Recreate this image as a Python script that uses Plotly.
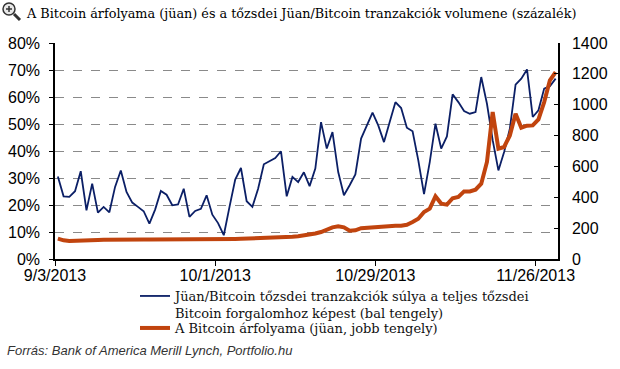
import pandas as pd
import plotly.graph_objects as go

dates = pd.date_range("2013-09-03", periods=88, freq="D")

cny_share = [
    30.6, 23.2, 23.0, 25.1, 32.5, 18.0, 27.9, 17.2, 19.3, 17.3,
    26.7, 32.8, 24.8, 20.9, 19.3, 17.7, 13.1, 18.3, 25.2, 23.8,
    19.9, 20.2, 26.0, 15.6, 17.8, 18.6, 23.6, 16.4, 13.3, 8.8,
    19.3, 29.4, 33.7, 21.4, 19.3, 26.0, 35.1, 36.3, 37.4, 39.9,
    23.2, 30.4, 28.5, 32.1, 27.0, 33.5, 50.7, 40.9, 47.0, 32.2,
    23.6, 27.3, 31.3, 44.6, 49.1, 54.2, 49.5, 43.3, 50.7, 58.1,
    55.9, 48.6, 47.3, 36.5, 24.0, 35.9, 50.1, 40.9, 45.4, 61.0,
    58.1, 54.8, 53.8, 54.4, 67.4, 57.5, 44.0, 32.8, 39.6, 48.3,
    64.6, 66.8, 70.2, 52.6, 55.1, 63.1, 64.0, 66.8,
]

btc_price_cny = [
    132, 121, 117, 117, 118, 119, 121, 123, 125, 126,
    126, 126, 126, 125, 125, 126, 126, 126, 125, 124,
    124, 124, 125, 125, 126, 127, 128, 128, 129, 126,
    128, 130, 131, 132, 133, 134, 135, 136, 137, 138,
    142, 145, 148, 153, 158, 165, 175, 190, 205, 212,
    205, 183, 186, 200, 203, 207, 212, 214, 216, 216,
    216, 222, 240, 261, 305, 326, 406, 359, 352, 394,
    402, 438, 438, 449, 488, 629, 953, 715, 726, 801,
    942, 851, 864, 866, 905, 1017, 1158, 1212,
]

x_tick_vals = ["2013-09-02 12:00", "2013-09-30 12:00", "2013-10-28 12:00", "2013-11-25 12:00"]
x_tick_text = ["9/3/2013", "10/1/2013", "10/29/2013", "11/26/2013"]

title_text = "A Bitcoin árfolyama (jüan) és a tőzsdei Jüan/Bitcoin tranzakciók volumene (százalék)"
name_share = "Jüan/Bitcoin tőzsdei tranzakciók súlya a teljes tőzsdei<br>Bitcoin forgalomhoz képest (bal tengely)"
name_price = "A Bitcoin árfolyama (jüan, jobb tengely)"
source_text = "Forrás: Bank of America Merill Lynch, Portfolio.hu"

W, H = 620, 369
L, R, T, B = 55, 62, 43, 110
pw, ph = W - L - R, H - T - B

def px(x):
    return (x - L) / pw

def py(y):
    return (H - B - y) / ph

fig = go.Figure()
fig.add_trace(go.Scatter(x=dates, y=cny_share, mode="lines", name=name_share,
                         line=dict(color="#0b1f66", width=1.8), yaxis="y",
                         legend="legend"))
fig.add_trace(go.Scatter(x=dates, y=btc_price_cny, mode="lines", name=name_price,
                         line=dict(color="#c1440e", width=4), yaxis="y2",
                         legend="legend2"))

tick_font = dict(family="Liberation Sans, Arial, sans-serif", size=16, color="#000")
legend_font = dict(family="DejaVu Serif, serif", size=13, color="#111")

fig.update_layout(
    width=W, height=H,
    margin=dict(l=L, r=R, t=T, b=B),
    paper_bgcolor="white", plot_bgcolor="white",
    title=dict(text=title_text, x=27 / W, xref="container", xanchor="left",
               y=1 - 14 / H, yref="container", yanchor="middle", automargin=False,
               font=dict(family="DejaVu Serif, serif", size=12.8, color="#000")),
    xaxis=dict(type="date", range=["2013-09-02 12:00", "2013-11-29 10:00"],
               tickvals=x_tick_vals, ticktext=x_tick_text, automargin=False,
               ticks="outside", ticklen=5, tickwidth=1, tickcolor="#000",
               showline=True, linecolor="#000", linewidth=1.5,
               showgrid=False, zeroline=False, tickfont=tick_font,
               ticklabelstandoff=-4),
    yaxis=dict(range=[0, 80], dtick=10, ticksuffix="%", automargin=False,
               ticks="outside", ticklen=4, tickcolor="#000",
               showline=True, linecolor="#000", linewidth=1.5,
               showgrid=True, gridcolor="#8a8a8a", griddash="dash", gridwidth=1,
               zeroline=False, tickfont=tick_font, ticklabelstandoff=6),
    yaxis2=dict(range=[0, 1400], dtick=200, overlaying="y", side="right",
                automargin=False,
                ticks="inside", ticklen=4, tickcolor="#000",
                showline=True, linecolor="#000", linewidth=1.5,
                showgrid=False, zeroline=False, tickfont=tick_font,
                ticklabelstandoff=9),
    showlegend=True,
    legend=dict(x=px(135), xanchor="left", y=py(281), yanchor="top",
                orientation="v", valign="top", tracegroupgap=0,
                font=legend_font, bgcolor="rgba(0,0,0,0)", itemwidth=30),
    legend2=dict(x=px(135), xanchor="left", y=py(313), yanchor="top",
                 orientation="v", valign="top", tracegroupgap=0,
                 font=legend_font, bgcolor="rgba(0,0,0,0)", itemwidth=30),
    annotations=[dict(text=source_text, xref="paper", yref="paper",
                      x=px(5), y=py(350), xanchor="left", yanchor="middle",
                      showarrow=False,
                      font=dict(family="Liberation Sans, Arial, sans-serif", size=13,
                                color="#333", style="italic"))],
    shapes=[
        dict(type="circle", xref="paper", yref="paper",
             x0=px(3), x1=px(15), y0=py(3), y1=py(15),
             line=dict(color="#333", width=1.5), fillcolor="#e8e8e8"),
        dict(type="line", xref="paper", yref="paper",
             x0=px(14), x1=px(20), y0=py(14), y1=py(20),
             line=dict(color="#333", width=3)),
        dict(type="line", xref="paper", yref="paper",
             x0=px(6), x1=px(12), y0=py(9), y1=py(9),
             line=dict(color="#333", width=1.5)),
        dict(type="line", xref="paper", yref="paper",
             x0=px(9), x1=px(9), y0=py(6), y1=py(12),
             line=dict(color="#333", width=1.5)),
    ],
)

fig.write_html("out.html", config={"displayModeBar": False},
               post_script="document.body.style.margin='0';")
